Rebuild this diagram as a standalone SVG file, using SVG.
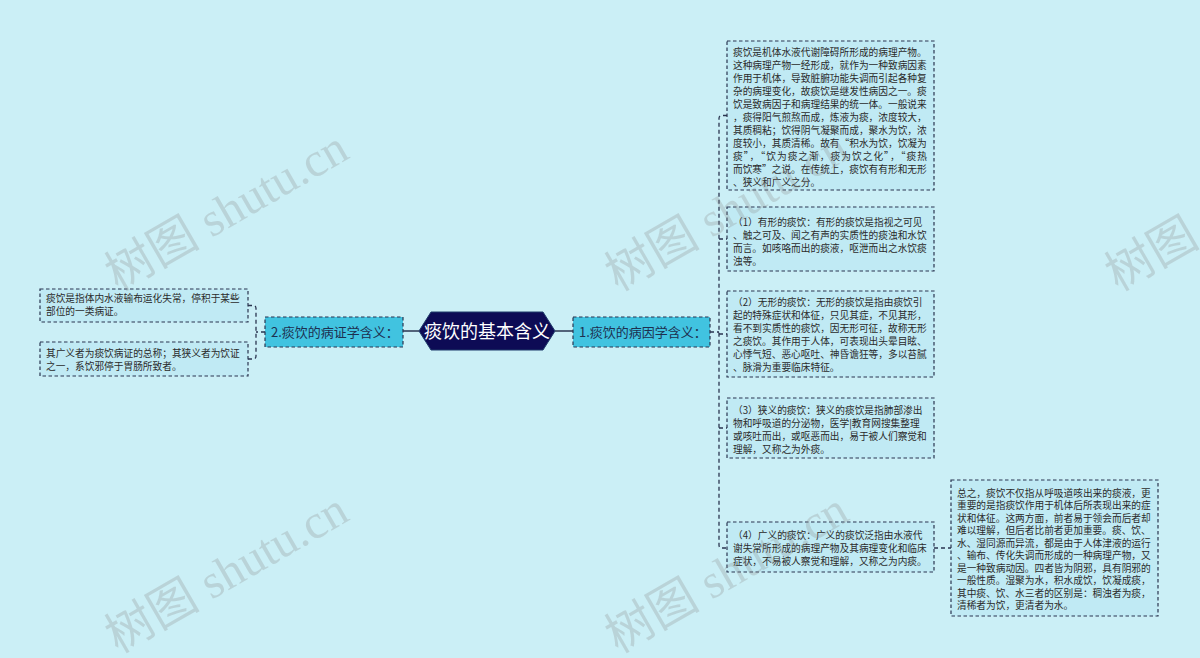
<svg xmlns="http://www.w3.org/2000/svg" width="1200" height="658" viewBox="0 0 1200 658">
<style>
.bg{fill:#cbeff6}
.wm{font-family:"Liberation Serif","Noto Sans CJK SC",serif;font-size:48px;fill:#8c8c8c;fill-opacity:0.28}
.leaf{fill:#c0eaf4;stroke:#2a3550;stroke-width:1.2;stroke-dasharray:3.5 2.5}
.sub{fill:#41c3e0;stroke:#2a3550;stroke-width:1.2;stroke-dasharray:3.5 2.5}
.t{font-family:"Noto Sans CJK SC",sans-serif;font-size:9.7px;fill:#2b2b2b}
.ts{font-family:"Noto Sans CJK SC",sans-serif;font-size:13px;fill:#1d3050}
.tc{font-family:"Noto Sans CJK SC",sans-serif;font-size:18px;fill:#ffffff}
.c{fill:none;stroke:#2a3550;stroke-width:1.3;stroke-dasharray:4 3}
.cs{fill:none;stroke:#2a3550;stroke-width:1.5}
</style>
<rect class="bg" x="0" y="0" width="1200" height="658"/>
<g id="connectors">
<line class="cs" x1="555" y1="331" x2="573" y2="331"/>
<line class="cs" x1="403" y1="331" x2="419" y2="331"/>
<path class="c" d="M710,332 H719 M727,115.5 H722 Q719,115.5 719,118.5 V545 Q719,548 722,548 H727 M719,239 H727 M719,334 H727 M719,428 H727"/>
<path class="c" d="M265,332 H256 M248,305.5 H253 Q256,305.5 256,308.5 V356 Q256,359 253,359 H248"/>
<line class="c" x1="934" y1="548" x2="951" y2="548"/>
</g>
<g id="center">
<polygon points="419,331 431,312 543,312 555,331 543,350 431,350" fill="#0d0b55" stroke="#1f3a6a" stroke-width="1"/>
<text class="tc" x="487" y="337.5" text-anchor="middle">痰饮的基本含义</text>
</g>
<g id="n1">
<rect class="sub" x="573" y="317" width="137" height="30"/>
<text class="ts" x="579" y="336.5">1.痰饮的病因学含义：</text>
</g>
<g id="n2">
<rect class="sub" x="265" y="317" width="138" height="30"/>
<text class="ts" x="271" y="336.5">2.痰饮的病证学含义：</text>
</g>
<g id="r1">
<rect class="leaf" x="727" y="41" width="207" height="149"/>
<text class="t" x="733" y="56">痰饮是机体水液代谢障碍所形成的病理产物。</text>
<text class="t" x="733" y="69">这种病理产物一经形成，就作为一种致病因素</text>
<text class="t" x="733" y="82">作用于机体，导致脏腑功能失调而引起各种复</text>
<text class="t" x="733" y="95">杂的病理变化，故痰饮是继发性病因之一。痰</text>
<text class="t" x="733" y="108">饮是致病因子和病理结果的统一体。一般说来</text>
<text class="t" x="733" y="121">，痰得阳气煎熬而成，炼液为痰，浓度较大，</text>
<text class="t" x="733" y="134">其质稠粘；饮得阴气凝聚而成，聚水为饮，浓</text>
<text class="t" x="733" y="147">度较小，其质清稀。故有“积水为饮，饮凝为</text>
<text class="t" x="733" y="160" textLength="194" lengthAdjust="spacing">痰”，“饮为痰之渐，痰为饮之化”，“痰热</text>
<text class="t" x="733" y="173">而饮寒”之说。在传统上，痰饮有有形和无形</text>
<text class="t" x="733" y="186">、狭义和广义之分。</text>
</g>
<g id="r2">
<rect class="leaf" x="727" y="207" width="207" height="64"/>
<text class="t" x="733" y="226">（1）有形的痰饮：有形的痰饮是指视之可见</text>
<text class="t" x="733" y="239">、触之可及、闻之有声的实质性的痰浊和水饮</text>
<text class="t" x="733" y="252">而言。如咳咯而出的痰液，呕泄而出之水饮痰</text>
<text class="t" x="733" y="265">浊等。</text>
</g>
<g id="r3">
<rect class="leaf" x="727" y="291" width="207" height="86"/>
<text class="t" x="733" y="306">（2）无形的痰饮：无形的痰饮是指由痰饮引</text>
<text class="t" x="733" y="319">起的特殊症状和体征，只见其症，不见其形，</text>
<text class="t" x="733" y="332">看不到实质性的痰饮，因无形可征，故称无形</text>
<text class="t" x="733" y="345">之痰饮。其作用于人体，可表现出头晕目眩、</text>
<text class="t" x="733" y="358">心悸气短、恶心呕吐、神昏谵狂等，多以苔腻</text>
<text class="t" x="733" y="371">、脉滑为重要临床特征。</text>
</g>
<g id="r4">
<rect class="leaf" x="727" y="398" width="207" height="60"/>
<text class="t" x="733" y="414">（3）狭义的痰饮：狭义的痰饮是指肺部渗出</text>
<text class="t" x="733" y="427">物和呼吸道的分泌物，医学|教育网搜集整理</text>
<text class="t" x="733" y="440">或咳吐而出，或呕恶而出，易于被人们察觉和</text>
<text class="t" x="733" y="453">理解，又称之为外痰。</text>
</g>
<g id="r5">
<rect class="leaf" x="727" y="522" width="207" height="50"/>
<text class="t" x="733" y="539">（4）广义的痰饮：广义的痰饮泛指由水液代</text>
<text class="t" x="733" y="552">谢失常所形成的病理产物及其病理变化和临床</text>
<text class="t" x="733" y="565">症状，不易被人察觉和理解，又称之为内痰。</text>
</g>
<g id="r6">
<rect class="leaf" x="951" y="480" width="207" height="136"/>
<text class="t" x="957" y="496.5">总之，痰饮不仅指从呼吸道咳出来的痰液，更</text>
<text class="t" x="957" y="509">重要的是指痰饮作用于机体后所表现出来的症</text>
<text class="t" x="957" y="521.5">状和体征。这两方面，前者易于领会而后者却</text>
<text class="t" x="957" y="534">难以理解，但后者比前者更加重要。痰、饮、</text>
<text class="t" x="957" y="546.5">水、湿同源而异流，都是由于人体津液的运行</text>
<text class="t" x="957" y="559">、输布、传化失调而形成的一种病理产物，又</text>
<text class="t" x="957" y="571.5">是一种致病动因。四者皆为阴邪，具有阴邪的</text>
<text class="t" x="957" y="584">一般性质。湿聚为水，积水成饮，饮凝成痰，</text>
<text class="t" x="957" y="596.5">其中痰、饮、水三者的区别是：稠浊者为痰，</text>
<text class="t" x="957" y="609">清稀者为饮，更清者为水。</text>
</g>
<g id="l1">
<rect class="leaf" x="40" y="289" width="208" height="33"/>
<text class="t" x="46" y="302">痰饮是指体内水液输布运化失常，停积于某些</text>
<text class="t" x="46" y="315">部位的一类病证。</text>
</g>
<g id="l2">
<rect class="leaf" x="40" y="342" width="208" height="34"/>
<text class="t" x="46" y="357">其广义者为痰饮病证的总称；其狭义者为饮证</text>
<text class="t" x="46" y="370">之一，系饮邪停于胃肠所致者。</text>
</g>
<g id="watermarks">
<text class="wm" transform="translate(118,292) rotate(-30)">树图 shutu.cn</text>
<text class="wm" transform="translate(618,292) rotate(-30)">树图 shutu.cn</text>
<text class="wm" transform="translate(1118,292) rotate(-30)">树图 shutu.cn</text>
<text class="wm" transform="translate(118,654) rotate(-30)">树图 shutu.cn</text>
<text class="wm" transform="translate(618,654) rotate(-30)">树图 shutu.cn</text>
</g>
</svg>
